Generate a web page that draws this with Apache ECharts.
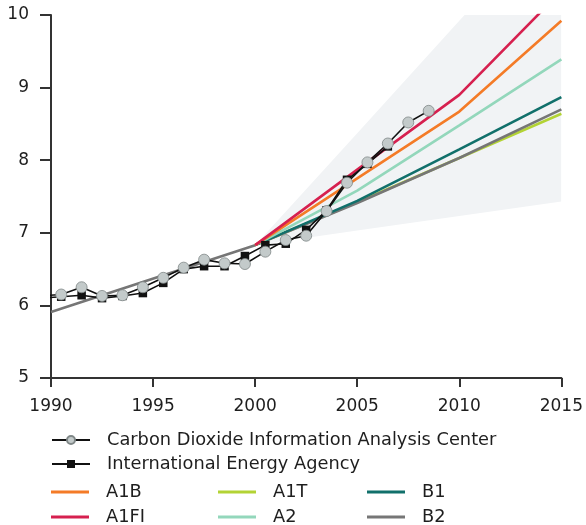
<!DOCTYPE html>
<html>
<head>
<meta charset="utf-8">
<script src="https://cdn.jsdelivr.net/npm/echarts@6/dist/echarts.min.js"></script>
<style>
  html, body { margin: 0; padding: 0; background: #fff; }
  #chart { width: 586px; height: 525px; }
</style>
</head>
<body>
<div id="chart"></div>
<script>
// Axis ticks
const yearTicks = [1990, 1995, 2000, 2005, 2010, 2015];
const emissionTicks = [5, 6, 7, 8, 9, 10];

// Observed emissions (GtC per year), plotted at mid-year
const cdiacYears = [1989.5, 1990.5, 1991.5, 1992.5, 1993.5, 1994.5, 1995.5, 1996.5, 1997.5, 1998.5,
                    1999.5, 2000.5, 2001.5, 2002.5, 2003.5, 2004.5, 2005.5, 2006.5, 2007.5, 2008.5];
const cdiacValues = [6.13, 6.15, 6.25, 6.13, 6.14, 6.25, 6.38, 6.52, 6.63, 6.58,
                     6.57, 6.74, 6.90, 6.96, 7.30, 7.69, 7.97, 8.23, 8.52, 8.68];

const ieaYears = [1989.5, 1990.5, 1991.5, 1992.5, 1993.5, 1994.5, 1995.5, 1996.5, 1997.5, 1998.5,
                  1999.5, 2000.5, 2001.5, 2002.5, 2003.5, 2004.5, 2005.5, 2006.5];
const ieaValues = [6.10, 6.12, 6.14, 6.10, 6.13, 6.17, 6.31, 6.50, 6.54, 6.54,
                   6.68, 6.83, 6.85, 7.04, 7.31, 7.73, 7.95, 8.19];

// SRES scenarios
const scenarioYears = [2000, 2005, 2010, 2015];
const a1b  = [6.83, 7.75, 8.67, 9.92];
const a1fi = [6.83, 7.87, 8.90, 10.33];
const a1t  = [6.83, 7.42, 8.03, 8.64];
const a2   = [6.83, 7.58, 8.48, 9.39];
const b1   = [6.83, 7.44, 8.15, 8.87];
const b2Years = [1990, 2000, 2005, 2010, 2015];
const b2   = [5.91, 6.83, 7.41, 8.03, 8.70];

// Full scenario range (shaded band)
const rangeLow  = [6.83, 7.03, 7.23, 7.43];
const rangeHigh = [6.83, 8.37, 9.92, 11.47];

const FONT = 'DejaVu Sans';
const TEXT = '#1e1e1e';
const AXIS = '#333';

const pairs = (xs, ys) => xs.map((x, i) => [x, ys[i]]);

function obsData(xs, ys) {
  // first point sits left of the axis and only carries the line in
  return xs.map((x, i) => i === 0 ? { value: [x, ys[i]], symbol: 'none' } : [x, ys[i]]);
}

function scenario(name, xs, ys, color, z) {
  return {
    name, type: 'line', data: pairs(xs, ys),
    symbol: 'none', z,
    lineStyle: { color, width: 2.6 },
    itemStyle: { color },
    emphasis: { disabled: true }
  };
}

// Shaded band between the lowest and highest scenario, clipped to the plot area
const rangeSeries = {
  name: 'range', type: 'custom', z: 1, silent: true,
  data: [0],
  renderItem(params, api) {
    const upper = scenarioYears.map((x, i) => api.coord([x, rangeHigh[i]]));
    const lower = scenarioYears.map((x, i) => api.coord([x, rangeLow[i]])).reverse();
    const cs = params.coordSys;
    return {
      type: 'group',
      clipPath: { type: 'rect', shape: { x: cs.x, y: cs.y, width: cs.width, height: cs.height } },
      children: [{
        type: 'polygon',
        shape: { points: upper.concat(lower) },
        style: { fill: '#f1f3f5' }
      }]
    };
  }
};

const series = [
  rangeSeries,
  scenario('A1T', scenarioYears, a1t, '#b3d335', 2),
  scenario('B2', b2Years, b2, '#767676', 3),
  scenario('B1', scenarioYears, b1, '#11706b', 4),
  scenario('A2', scenarioYears, a2, '#93d7bb', 5),
  scenario('A1B', scenarioYears, a1b, '#f47b27', 6),
  scenario('A1FI', scenarioYears, a1fi, '#d6204f', 7),
  {
    name: 'International Energy Agency', type: 'line', data: obsData(ieaYears, ieaValues),
    symbol: 'rect', symbolSize: 8.5, z: 8,
    lineStyle: { color: '#111', width: 1.6 },
    itemStyle: { color: '#111' },
    emphasis: { disabled: true }
  },
  {
    name: 'Carbon Dioxide Information Analysis Center', type: 'line', data: obsData(cdiacYears, cdiacValues),
    symbol: 'circle', symbolSize: 11, z: 9,
    lineStyle: { color: '#111', width: 1.6 },
    itemStyle: { color: '#c3caca', borderColor: '#7f8787', borderWidth: 0.8 },
    emphasis: { disabled: true }
  }
];

function legendItem(name, left, top, lineIcon) {
  return {
    data: [lineIcon ? { name, icon: 'rect' } : name],
    left, top, padding: 0,
    itemWidth: 38, itemHeight: lineIcon ? 3 : 10,
    selectedMode: false,
    textStyle: { fontFamily: FONT, fontSize: 17.8, color: TEXT, padding: [0, 0, 0, 12] }
  };
}

const legends = [
  legendItem('Carbon Dioxide Information Analysis Center', 51, 431, false),
  legendItem('International Energy Agency', 51, 455, false),
  legendItem('A1B', 51, 483, true),
  legendItem('A1FI', 51, 508, true),
  legendItem('A1T', 218, 483, true),
  legendItem('A2', 218, 508, true),
  legendItem('B1', 367, 483, true),
  legendItem('B2', 367, 508, true)
];

const chart = echarts.init(document.getElementById('chart'), null, { renderer: 'canvas' });
chart.setOption({
  animation: false,
  backgroundColor: '#fff',
  grid: { left: 51, right: 19, top: 15, bottom: 147 },
  legend: legends,
  xAxis: {
    type: 'value',
    min: yearTicks[0], max: yearTicks[yearTicks.length - 1], interval: 5,
    axisLine: { show: true, onZero: false, lineStyle: { color: AXIS, width: 2 } },
    axisTick: { show: true, length: 9, lineStyle: { color: AXIS, width: 2 } },
    axisLabel: { fontFamily: FONT, fontSize: 17, color: TEXT, margin: 20, formatter: v => String(v) },
    splitLine: { show: false }
  },
  yAxis: {
    type: 'value',
    min: emissionTicks[0], max: emissionTicks[emissionTicks.length - 1], interval: 1,
    axisLine: { show: true, lineStyle: { color: AXIS, width: 2 } },
    axisTick: { show: true, length: 11, lineStyle: { color: AXIS, width: 2 } },
    axisLabel: { fontFamily: FONT, fontSize: 17, color: TEXT, margin: 22 },
    splitLine: { show: false }
  },
  series
});
</script>
</body>
</html>
